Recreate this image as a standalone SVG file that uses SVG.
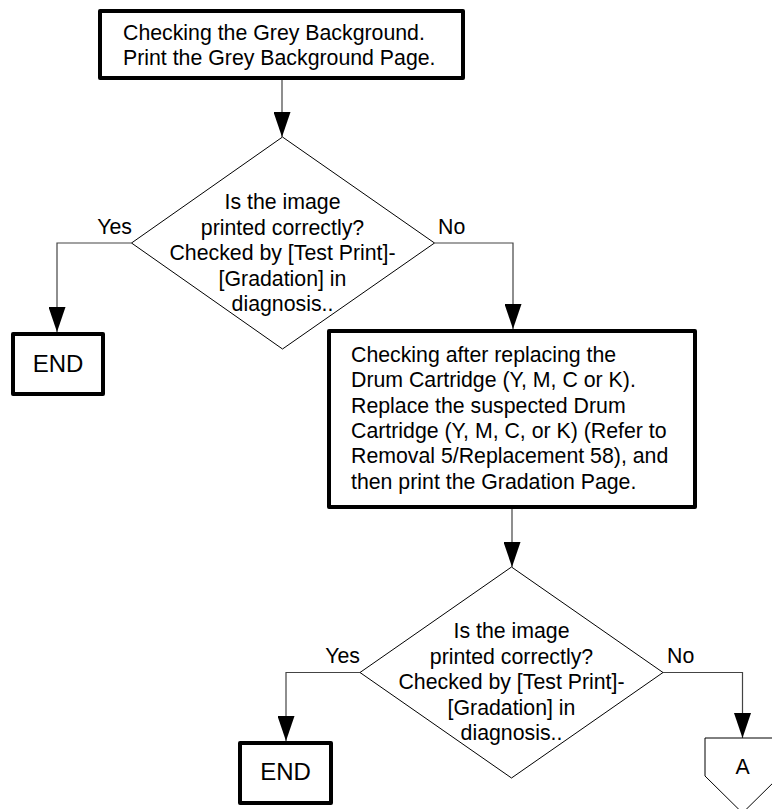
<svg xmlns="http://www.w3.org/2000/svg" width="772" height="809" viewBox="0 0 772 809">
<style>
.box{fill:#fff;stroke:#000;stroke-width:4;stroke-linejoin:round}
.dia{fill:#fff;stroke:#000;stroke-width:1}
.conn{fill:none;stroke:#444;stroke-width:1.2}
.t{font-family:"Liberation Sans",Arial,sans-serif;font-size:21.3px;fill:#000}
.c{text-anchor:middle}
.end{font-size:24px}
</style>
<defs>
<marker id="ah" viewBox="0 0 25 17" refX="25" refY="8.5" markerWidth="25" markerHeight="17" markerUnits="userSpaceOnUse" orient="auto">
<path d="M0,0 L25,8.5 L0,17 z" fill="#000"/>
</marker>
</defs>
<rect width="772" height="809" fill="#fff"/>
<g id="connectors">
<path class="conn" d="M282,80 V137" marker-end="url(#ah)"/>
<path class="conn" d="M131.5,243 H57 V332" marker-end="url(#ah)"/>
<path class="conn" d="M434.5,243 H513 V329" marker-end="url(#ah)"/>
<path class="conn" d="M512,509 V567" marker-end="url(#ah)"/>
<path class="conn" d="M360,672.5 H286 V741" marker-end="url(#ah)"/>
<path class="conn" d="M663,672.5 H742.5 V738" marker-end="url(#ah)"/>
<text class="t" x="132" y="234" text-anchor="end">Yes</text>
<text class="t" x="438" y="234">No</text>
<text class="t" x="360" y="663" text-anchor="end">Yes</text>
<text class="t" x="667" y="663">No</text>
</g>
<g id="box1">
<rect class="box" x="100" y="11" width="363" height="67"/>
<text class="t" x="123" y="39.5">Checking the Grey Background.</text>
<text class="t" x="123" y="65">Print the Grey Background Page.</text>
</g>
<g id="decision1">
<polygon class="dia" points="282.5,137 434.5,243 282.5,349 131.5,243"/>
<text class="t c" x="282.5" y="209">Is the image</text>
<text class="t c" x="282.5" y="234.5">printed correctly?</text>
<text class="t c" x="282.5" y="260">Checked by [Test Print]-</text>
<text class="t c" x="282.5" y="285.5">[Gradation] in</text>
<text class="t c" x="282.5" y="311">diagnosis..</text>
</g>
<g id="end1">
<rect class="box" x="13" y="334" width="90" height="60"/>
<text class="t c end" x="58" y="372">END</text>
</g>
<g id="box2">
<rect class="box" x="329" y="331" width="366" height="176"/>
<text class="t" x="351" y="361.5">Checking after replacing the</text>
<text class="t" x="351" y="387">Drum Cartridge (Y, M, C or K).</text>
<text class="t" x="351" y="412.5">Replace the suspected Drum</text>
<text class="t" x="351" y="438">Cartridge (Y, M, C, or K) (Refer to</text>
<text class="t" x="351" y="463">Removal 5/Replacement 58), and</text>
<text class="t" x="351" y="488.5">then print the Gradation Page.</text>
</g>
<g id="decision2">
<polygon class="dia" points="511.5,567 663,672.5 511.5,778 360,672.5"/>
<text class="t c" x="511.5" y="638">Is the image</text>
<text class="t c" x="511.5" y="663.5">printed correctly?</text>
<text class="t c" x="511.5" y="689">Checked by [Test Print]-</text>
<text class="t c" x="511.5" y="714.5">[Gradation] in</text>
<text class="t c" x="511.5" y="740">diagnosis..</text>
</g>
<g id="end2">
<rect class="box" x="240" y="743" width="91" height="60"/>
<text class="t c end" x="285.5" y="780">END</text>
</g>
<g id="offpageA">
<polygon class="dia" points="705,738 780,738 780,776 742.5,813 705,776"/>
<text class="t c" x="742.5" y="774">A</text>
</g>
</svg>
